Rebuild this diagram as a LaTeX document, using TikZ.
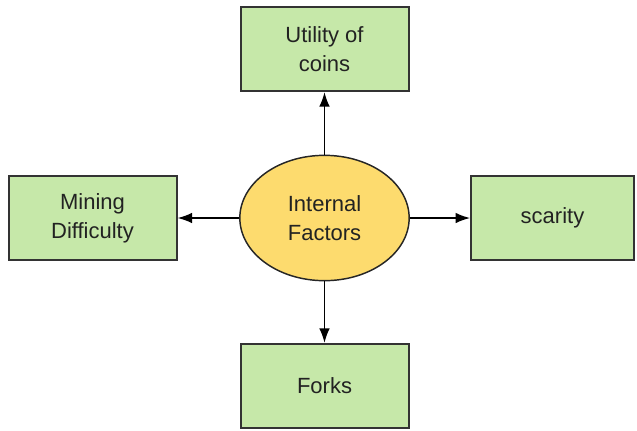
\documentclass[tikz,border=0pt]{standalone}
\usepackage{fontspec}
\setmainfont{Liberation Sans}
\usetikzlibrary{shapes.geometric,arrows.meta}
\definecolor{boxfill}{HTML}{C6E8A9}
\definecolor{ellfill}{HTML}{FDDB6E}
\definecolor{edge}{HTML}{333333}
\definecolor{txt}{HTML}{222222}
\begin{document}
\begin{tikzpicture}[x=0.75pt,y=-0.75pt,
  box/.style={draw=edge,line width=1.5pt,fill=boxfill,minimum width=126pt,minimum height=63pt,inner sep=0pt,align=center,font=\fontsize{16.5}{22}\selectfont,text=txt},
  ell/.style={ellipse,draw=black!85,line width=1.1pt,fill=ellfill,minimum width=127pt,minimum height=94pt,inner sep=0pt,align=center,font=\fontsize{16.5}{22}\selectfont,text=txt},
  conn/.style={line width=1.3pt,-{Latex[length=11pt,width=8pt]}}]
\useasboundingbox (0,0) rectangle (637,430);
\node[ell] (c) at (324.5,218) {Internal\\Factors};
\node[box] (t) at (324.5,49) {Utility of\\coins};
\node[box] (l) at (92.5,218) {Mining\\Difficulty};
\node[box,minimum width=122pt] (r) at (552.5,218) {scarity};
\node[box] (b) at (324.5,386) {Forks};
\draw[conn] (c) -- (t);
\draw[conn] (c) -- (l);
\draw[conn] (c) -- (r);
\draw[conn] (c) -- (b);
\end{tikzpicture}
\end{document}
